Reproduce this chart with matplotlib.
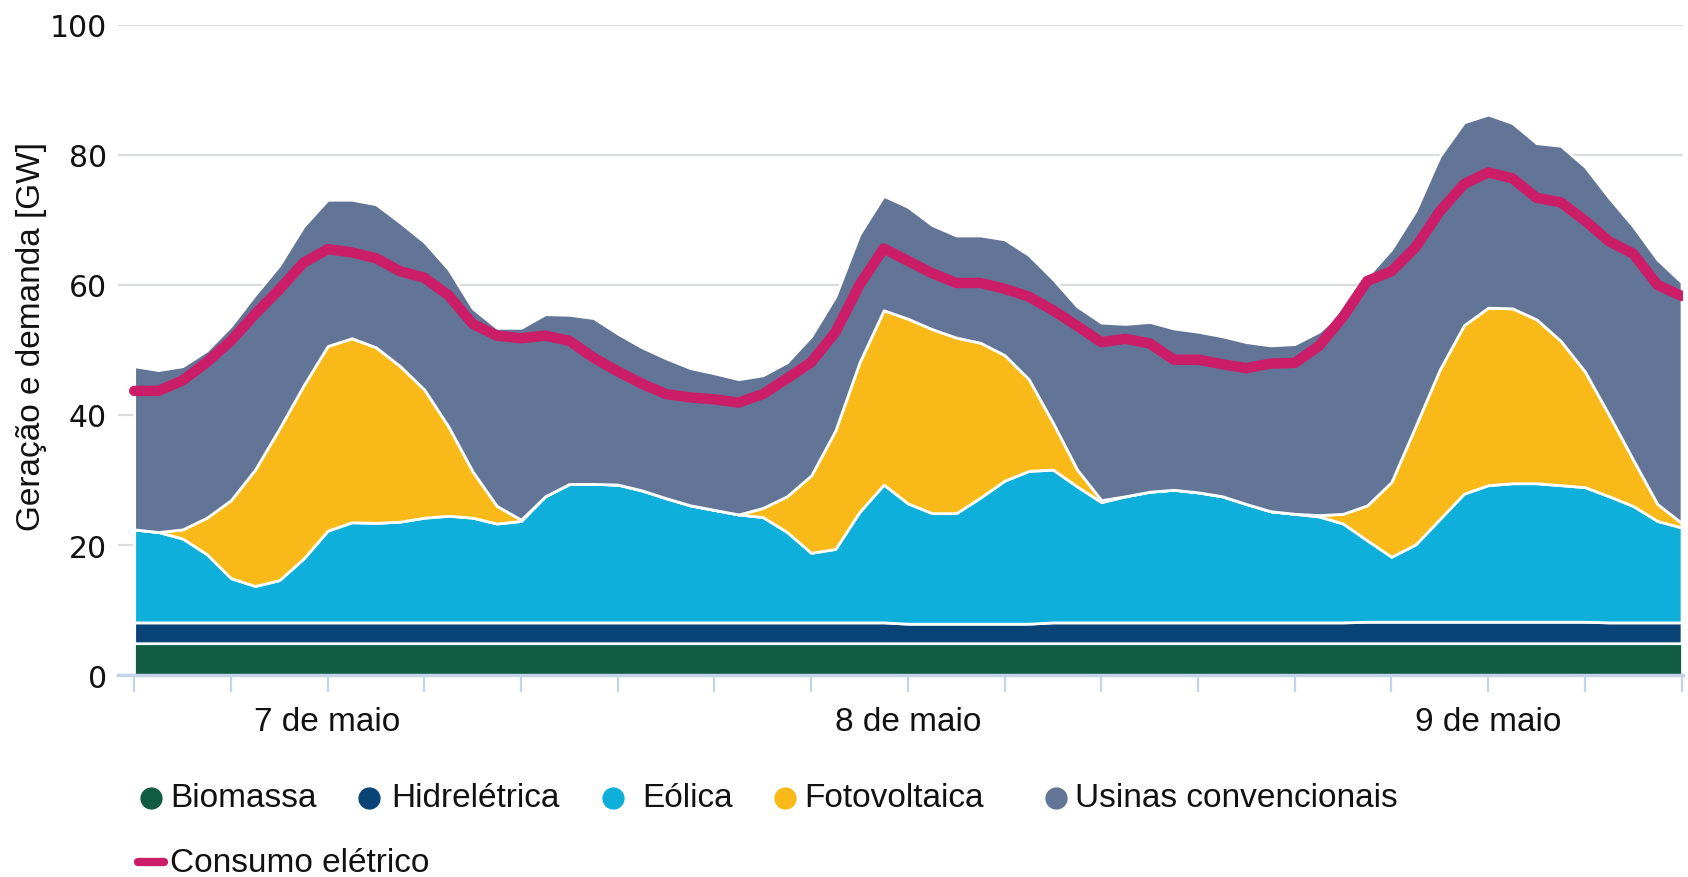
import matplotlib
matplotlib.use("Agg")
import matplotlib.pyplot as plt
from matplotlib import font_manager
import numpy as np

# hourly values, 7 May 04:00 .. 9 May 20:00 (GW)
hours = np.arange(65)

biomassa = [4.9] * 65
hidreletrica = [3.2] * 32 + [3.0] * 6 + [3.2] * 13 + [3.3] * 10 + [3.2] * 4

eolica = [14.3, 13.9, 12.9, 10.5, 6.8, 5.6, 6.5, 9.8, 14.1, 15.4,
          15.3, 15.5, 16.1, 16.4, 16.1, 15.2, 15.6, 19.4, 21.3, 21.3,
          21.2, 20.3, 19.1, 18.0, 17.3, 16.6, 16.2, 13.9, 10.7, 11.3,
          17.0, 21.2, 18.5, 17.0, 17.0, 19.4, 22.0, 23.5, 23.5, 20.9,
          18.5, 19.4, 20.1, 20.4, 20.0, 19.4, 18.2, 17.1, 16.7, 16.3,
          15.2, 12.5, 10.0, 11.9, 15.8, 19.7, 21.0, 21.3, 21.3, 21.0,
          20.7, 19.4, 17.9, 15.6, 14.6]

fotovoltaica = [0.0, 0.0, 1.4, 5.6, 12.0, 17.9, 23.3, 26.6, 28.4, 28.3,
                27.0, 23.9, 19.7, 13.7, 7.1, 2.7, 0.2, 0.0, 0.0, 0.0,
                0.0, 0.0, 0.0, 0.0, 0.0, 0.0, 1.4, 5.5, 11.9, 18.2,
                23.0, 26.8, 28.4, 28.3, 27.0, 23.8, 19.3, 14.1, 7.2, 2.6,
                0.3, 0.0, 0.0, 0.0, 0.0, 0.0, 0.0, 0.0, 0.0, 0.2,
                1.5, 5.4, 11.5, 18.2, 23.0, 25.9, 27.3, 26.9, 25.2, 22.2,
                17.8, 12.5, 7.1, 2.6, 0.7]

convencionais = [25.1, 24.9, 25.1, 25.7, 26.8, 26.9, 25.1, 24.5, 22.5, 21.3,
                 22.0, 22.1, 22.7, 24.2, 25.1, 27.4, 29.5, 28.0, 26.0, 25.5,
                 23.2, 22.0, 21.5, 21.1, 21.0, 20.8, 20.4, 20.6, 21.4, 20.6,
                 19.7, 17.6, 17.2, 16.0, 15.7, 16.5, 17.8, 19.1, 22.1, 25.1,
                 27.3, 26.5, 26.1, 24.8, 24.7, 24.6, 24.9, 25.5, 26.1, 28.2,
                 31.3, 35.2, 35.8, 33.1, 32.8, 31.2, 29.7, 28.5, 27.1, 30.0,
                 31.5, 33.4, 35.9, 37.6, 37.0]

consumo = [43.7, 43.7, 45.3, 48.1, 51.4, 55.5, 59.3, 63.4, 65.5, 65.0,
           64.1, 62.1, 61.1, 58.4, 54.0, 52.2, 51.8, 52.2, 51.4, 48.8,
           46.7, 44.8, 43.2, 42.7, 42.4, 41.9, 43.2, 45.6, 48.1, 52.7,
           60.0, 65.6, 63.7, 61.8, 60.3, 60.3, 59.4, 58.2, 56.1, 53.7,
           51.2, 51.7, 51.0, 48.5, 48.5, 47.8, 47.2, 47.9, 48.0, 50.6,
           55.1, 60.6, 62.1, 65.8, 71.3, 75.5, 77.3, 76.4, 73.4, 72.7,
           69.9, 66.7, 64.8, 60.0, 58.3]

series_names = ["Biomassa", "Hidrelétrica", "Eólica", "Fotovoltaica", "Usinas convencionais"]
series_colors = ["#115B42", "#0A4476", "#0EB0DB", "#F9B918", "#627596"]
consumo_name = "Consumo elétrico"
consumo_color = "#CC1E68"

day_ticks = [8, 32, 56]
day_labels = ["7 de maio", "8 de maio", "9 de maio"]

available = {f.name for f in font_manager.fontManager.ttflist}
narrow = "Liberation Sans" if "Liberation Sans" in available else "DejaVu Sans"

fig = plt.figure(figsize=(16.88, 8.78), dpi=100)
ax = fig.add_axes([0.0699, 0.230, 0.9270, 0.7406])

ax.stackplot(hours, biomassa, hidreletrica, eolica, fotovoltaica, convencionais,
             colors=series_colors, edgecolor="white", linewidth=2.0, zorder=2)
ax.plot(hours, consumo, color=consumo_color, lw=7.5, solid_capstyle="round",
        solid_joinstyle="round", zorder=3)

ax.set_xlim(-0.67, 64.05)
ax.set_ylim(0, 100)

ax.set_yticks(range(0, 101, 20))
ax.yaxis.grid(True, color="#DADCDF", lw=1.6, zorder=0)
ax.tick_params(axis="y", length=0, pad=8, labelsize=21.5, labelcolor="#111111")
for lab in ax.get_yticklabels():
    lab.set_family("DejaVu Sans")

ax.set_xticks(range(0, 65, 4))
ax.set_xticklabels([day_labels[day_ticks.index(t)] if t in day_ticks else "" for t in range(0, 65, 4)],
                   family=narrow, fontsize=24)
ax.tick_params(axis="x", length=12, width=1.6, color="#C3D4E6", pad=10, labelcolor="#111111")

for side in ["top", "right", "left"]:
    ax.spines[side].set_visible(False)
ax.spines["bottom"].set_color("#C3D4E6")
ax.spines["bottom"].set_linewidth(2.5)
ax.set_axisbelow(True)

fig.text(0.0185, 0.617, "Geração e demanda [GW]", rotation=90, ha="center", va="center",
         family=narrow, fontsize=24, color="#111111")

# legend, laid out by hand like the original
leg_x = [0.0893, 0.2188, 0.3629, 0.4649, 0.6256]
txt_x = [0.1008, 0.2315, 0.3807, 0.4764, 0.6371]
for name, col, mx, tx in zip(series_names, series_colors, leg_x, txt_x):
    fig.lines.append(plt.Line2D([mx], [0.090], marker="o", markersize=15, color=col,
                                transform=fig.transFigure))
    fig.text(tx, 0.090, name, ha="left", va="center", family=narrow, fontsize=24, color="#111111")
fig.lines.append(plt.Line2D([0.0815, 0.0970], [0.017, 0.017], lw=6, color=consumo_color,
                            solid_capstyle="round", transform=fig.transFigure))
fig.text(0.1008, 0.017, consumo_name, ha="left", va="center", family=narrow, fontsize=24, color="#111111")

fig.savefig("out.png", dpi=100, facecolor="white")
